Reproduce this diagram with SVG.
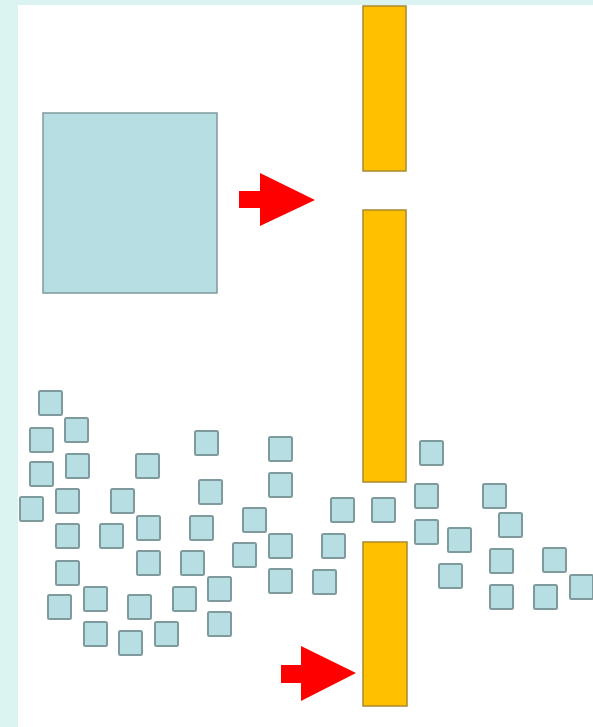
<svg xmlns="http://www.w3.org/2000/svg" width="593" height="727" viewBox="0 0 593 727">
<defs>
<style>
.bg{fill:#dcf4f1}
.pane{fill:#ffffff}
.bar{fill:#ffc000;stroke:#a8892e;stroke-width:1.5}
.big{fill:#b7dfe3;stroke:#7f9a9d;stroke-width:1.5}
.sq{fill:#b7dfe3;stroke:#7f9a9d;stroke-width:2}
.arrow{fill:#ff0000}
</style>
<rect id="sq" class="sq" x="0" y="0" width="23" height="24" rx="1.5"/>
</defs>
<rect class="bg" x="0" y="0" width="593" height="727"/>
<rect class="pane" x="18" y="5" width="575" height="722"/>
<g id="big-block"><rect class="big" x="43" y="113" width="174" height="180"/></g>
<g id="bar-top"><rect class="bar" x="363" y="6" width="43" height="165"/></g>
<g id="bar-middle"><rect class="bar" x="363" y="210" width="43" height="272"/></g>
<g id="bar-bottom"><rect class="bar" x="363" y="542" width="44" height="164"/></g>
<g id="connectors">
<polygon id="arrow-top" class="arrow" points="239,191 260,191 260,173 315,200 260,226 260,208 239,208"/>
<polygon id="arrow-bottom" class="arrow" points="281,665 301,665 301,646 356,673 301,701 301,683 281,683"/>
</g>
<g id="particles">
<use href="#sq" x="39" y="391"/>
<use href="#sq" x="65" y="418"/>
<use href="#sq" x="30" y="428"/>
<use href="#sq" x="195" y="431"/>
<use href="#sq" x="269" y="437"/>
<use href="#sq" x="66" y="454"/>
<use href="#sq" x="136" y="454"/>
<use href="#sq" x="30" y="462"/>
<use href="#sq" x="269" y="473"/>
<use href="#sq" x="199" y="480"/>
<use href="#sq" x="56" y="489"/>
<use href="#sq" x="111" y="489"/>
<use href="#sq" x="20" y="497"/>
<use href="#sq" x="243" y="508"/>
<use href="#sq" x="137" y="516"/>
<use href="#sq" x="190" y="516"/>
<use href="#sq" x="56" y="524"/>
<use href="#sq" x="100" y="524"/>
<use href="#sq" x="269" y="534"/>
<use href="#sq" x="233" y="543"/>
<use href="#sq" x="137" y="551"/>
<use href="#sq" x="181" y="551"/>
<use href="#sq" x="56" y="561"/>
<use href="#sq" x="269" y="569"/>
<use href="#sq" x="208" y="577"/>
<use href="#sq" x="84" y="587"/>
<use href="#sq" x="173" y="587"/>
<use href="#sq" x="48" y="595"/>
<use href="#sq" x="128" y="595"/>
<use href="#sq" x="208" y="612"/>
<use href="#sq" x="84" y="622"/>
<use href="#sq" x="155" y="622"/>
<use href="#sq" x="119" y="631"/>
<use href="#sq" x="420" y="441"/>
<use href="#sq" x="415" y="484"/>
<use href="#sq" x="483" y="484"/>
<use href="#sq" x="331" y="498"/>
<use href="#sq" x="372" y="498"/>
<use href="#sq" x="415" y="520"/>
<use href="#sq" x="448" y="528"/>
<use href="#sq" x="499" y="513"/>
<use href="#sq" x="322" y="534"/>
<use href="#sq" x="490" y="549"/>
<use href="#sq" x="543" y="548"/>
<use href="#sq" x="313" y="570"/>
<use href="#sq" x="439" y="564"/>
<use href="#sq" x="490" y="585"/>
<use href="#sq" x="534" y="585"/>
<use href="#sq" x="570" y="575"/>
</g>
</svg>
